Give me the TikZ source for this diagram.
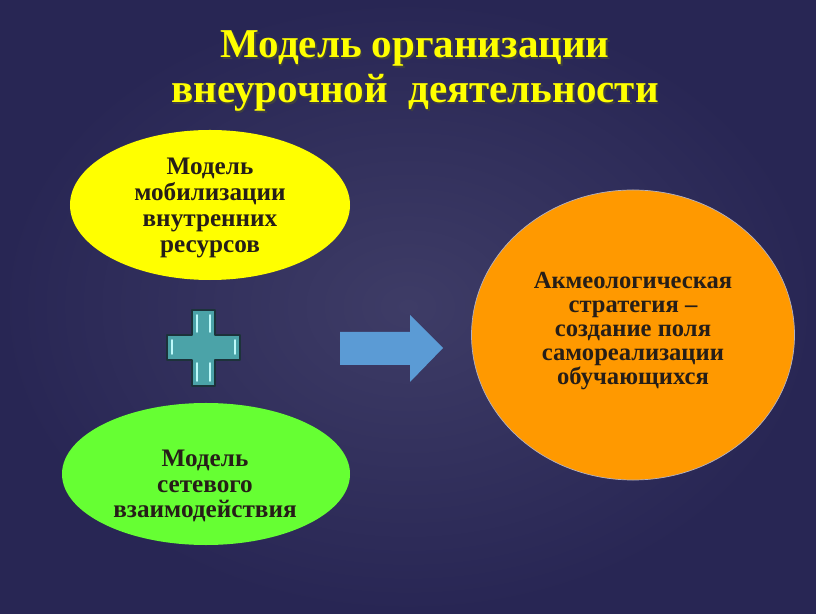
\documentclass[tikz,border=0pt]{standalone}
\usepackage{fontspec}
\setmainfont{Liberation Serif}
\usepackage{tikz}
\usetikzlibrary{shapes.geometric}
\definecolor{bgin}{RGB}{62,60,102}
\definecolor{bgout}{RGB}{40,38,84}
\definecolor{ttlyel}{RGB}{255,255,0}
\definecolor{yelfill}{RGB}{255,255,0}
\definecolor{grnfill}{RGB}{102,255,51}
\definecolor{orgfill}{RGB}{255,153,0}
\definecolor{plusfill}{RGB}{75,163,168}
\definecolor{plusedge}{RGB}{28,50,58}
\definecolor{plushl}{RGB}{190,250,250}
\definecolor{arrfill}{RGB}{91,155,213}
\definecolor{txtdark}{RGB}{38,30,24}
% title line with a dark shadow behind it
\newcommand{\ttlline}[1]{\leavevmode\rlap{\kern1.4pt\raisebox{-1.4pt}{\textcolor{black!75}{#1}}}#1}

\begin{document}
\begin{tikzpicture}[line cap=round,line join=round,x=0.03cm,y=0.03cm,
    ttl/.style={font=\fontsize{35}{38.5}\selectfont\bfseries,align=center,text=ttlyel},
    oval/.style={ellipse,inner sep=0pt},
    ovaltext/.style={font=\fontsize{21.5}{22}\selectfont\bfseries,align=center,text=txtdark}]
    \shade [inner color=bgin,outer color=bgout] (0,0) rectangle (816,613);
    \useasboundingbox (0,0) rectangle (816,613);
    % title
    \node (ttl) [ttl] at (415,541) {\ttlline{Модель организации}\\\ttlline{внеурочной\ \ деятельности}};
    % left ovals
    \node (mobil) [oval,fill=yelfill,minimum width=8.4cm,minimum height=4.5cm] at (210,408) {};
    \node (mobiltxt) [ovaltext] at (210,405) {Модель\\мобилизации\\внутренних\\ресурсов};
    \node (setev) [oval,fill=grnfill,minimum width=8.64cm,minimum height=4.26cm] at (206,139) {};
    \node (setevtxt) [ovaltext] at (205,127) {Модель\\сетевого\\взаимодействия};
    % right circle
    \node (akmeo) [oval,fill=orgfill,draw=white!60!bgin,line width=0.6pt,minimum width=9.69cm,minimum height=8.7cm] at (633,278) {};
    \node (akmeotxt) [ovaltext,font=\fontsize{21}{20.5}\selectfont\bfseries] at (633,282) {Акмеологическая\\стратегия --\\создание поля\\самореализации\\обучающихся};
    % plus
    \draw [fill=plusfill,draw=plusedge,line width=1.2pt] (192,303) -- (215,303) -- (215,278) -- (240,278) -- (240,253) -- (215,253) -- (215,227) -- (192,227) -- (192,253) -- (167,253) -- (167,278) -- (192,278) -- cycle;
    \draw [plushl,line width=1.3pt] (197,298) -- (197,281);
    \draw [plushl,line width=1.3pt] (210,298) -- (210,281);
    \draw [plushl,line width=1.3pt] (197,250) -- (197,232);
    \draw [plushl,line width=1.3pt] (210,250) -- (210,232);
    \draw [plushl,line width=1.3pt] (172,273) -- (172,259);
    \draw [plushl,line width=1.3pt] (235,273) -- (235,259);
    % arrow
    \fill [arrfill] (340,248) -- (340,281) -- (410,281) -- (410,298) -- (443,265) -- (410,231) -- (410,248) -- cycle;
\end{tikzpicture}
\end{document}
